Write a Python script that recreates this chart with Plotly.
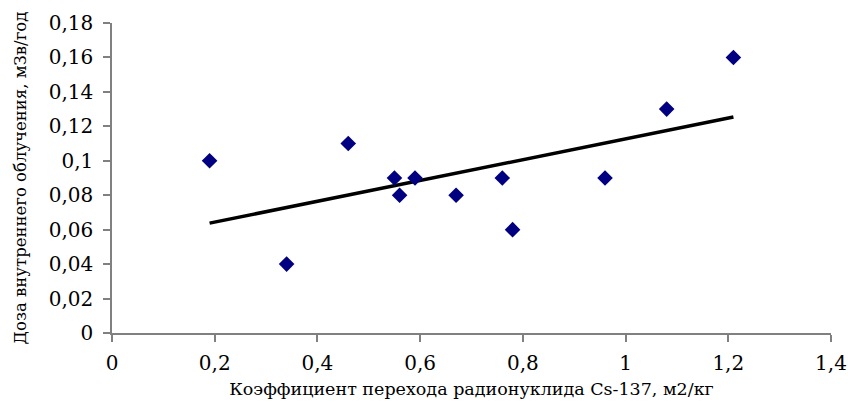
import numpy as np
import plotly.graph_objects as go

# Data
transfer_coef = [0.19, 0.34, 0.46, 0.55, 0.56, 0.59, 0.67, 0.76, 0.78, 0.96, 1.08, 1.21]
dose = [0.10, 0.04, 0.11, 0.09, 0.08, 0.09, 0.08, 0.09, 0.06, 0.09, 0.13, 0.16]

x_title = "Коэффициент перехода радионуклида Cs-137, м2/кг"
y_title = "Доза внутреннего облучения, мЗв/год"

# Linear trend (least squares), spanning the data range
slope, intercept = np.polyfit(transfer_coef, dose, 1)
trend_x = [min(transfer_coef), max(transfer_coef)]
trend_y = [slope * v + intercept for v in trend_x]

fig = go.Figure()
fig.add_trace(go.Scatter(
    x=trend_x, y=trend_y, mode="lines",
    line=dict(color="black", width=3.5),
    showlegend=False, hoverinfo="skip"))
fig.add_trace(go.Scatter(
    x=transfer_coef, y=dose, mode="markers",
    marker=dict(symbol="diamond", size=12, color="#000080"),
    showlegend=False))

font_family = "DejaVu Serif"
axis_common = dict(
    showgrid=False, zeroline=False, showline=True, linecolor="#808080", linewidth=1.5,
    ticks="outside", ticklen=7, tickcolor="#808080", tickwidth=1.5, automargin=False,
    tickfont=dict(family=font_family, size=20, color="black"))

fig.update_layout(
    template="none",
    width=848, height=403,
    margin=dict(l=112, r=17, t=23, b=70),
    paper_bgcolor="white", plot_bgcolor="white",
    separators=", ",
    font=dict(family=font_family, color="black"),
    xaxis=dict(range=[0, 1.4], dtick=0.2, tick0=0, ticklabelstandoff=4,
               title=dict(text=x_title, font=dict(family=font_family, size=17.5), standoff=9),
               **axis_common),
    yaxis=dict(range=[0, 0.18], dtick=0.02, tick0=0, ticklabelstandoff=6,
               title=dict(text=y_title, font=dict(family=font_family, size=16.5), standoff=18),
               **axis_common),
)

fig.write_html("out.html")
